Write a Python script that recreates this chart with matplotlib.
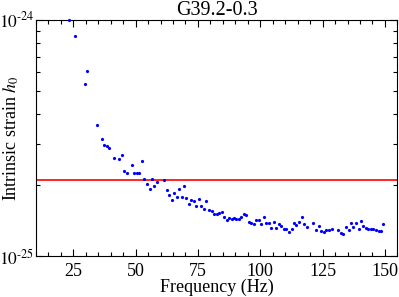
import math

import matplotlib
matplotlib.use("Agg")
import matplotlib.pyplot as plt
from matplotlib.ticker import FixedLocator, FuncFormatter, LogLocator, MultipleLocator

TITLE = "G39.2-0.3"
X_LABEL = "Frequency (Hz)"
Y_LABEL = r"Intrinsic strain $h_0$"

# frequencies (Hz) and upper limits (units of 1e-25)
freq = [
    23.4, 25.5, 29.5, 30.5, 34.5, 36.5, 37.4, 38.4, 39.4, 41.4,
    43.4, 44.4, 45.4, 46.4, 48.4, 49.4, 50.4, 51.4, 52.5, 53.4,
    54.6, 55.6, 56.4, 57.4, 58.4, 61.4, 62.4, 63.5, 64.4, 65.5,
    66.4, 67.5, 68.4, 69.5, 70.4, 71.5, 72.4, 73.5, 74.4, 75.5,
    76.4, 77.5, 78.4, 79.5, 80.5, 81.5, 82.5, 83.5, 84.5, 85.5,
    86.5, 87.5, 88.5, 89.4, 90.4, 91.4, 92.4, 93.4, 94.4, 95.3,
    96.4, 97.3, 98.4, 99.3, 100.4, 101.5, 102.4, 103.3, 104.4, 105.5,
    106.4, 107.5, 108.4, 109.5, 110.4, 111.5, 112.6, 113.5, 114.5, 115.5,
    116.6, 117.5, 118.6, 121.3, 122.4, 123.5, 124.4, 125.5, 126.5, 127.6,
    128.6, 131.3, 132.3, 133.3, 134.3, 135.4, 136.4, 137.3, 138.3, 139.4,
    140.4, 141.4, 142.4, 143.4, 144.4, 145.4, 146.5, 147.5, 148.4, 149.4,
]
h0 = [
    9.97, 8.53, 5.38, 6.07, 3.61, 3.15, 2.96, 2.92, 2.86, 2.61,
    2.58, 2.67, 2.30, 2.25, 2.44, 2.25, 2.25, 2.25, 2.54, 2.12,
    2.02, 1.93, 2.12, 1.99, 2.06, 2.10, 1.91, 1.81, 1.73, 1.86,
    1.78, 1.92, 1.78, 1.98, 1.77, 1.67, 1.73, 1.71, 1.64, 1.74,
    1.64, 1.58, 1.71, 1.57, 1.55, 1.51, 1.51, 1.53, 1.54, 1.46,
    1.43, 1.45, 1.44, 1.45, 1.44, 1.44, 1.46, 1.51, 1.49, 1.40,
    1.39, 1.37, 1.42, 1.42, 1.37, 1.46, 1.38, 1.38, 1.32, 1.40,
    1.32, 1.37, 1.34, 1.30, 1.30, 1.27, 1.31, 1.39, 1.35, 1.40,
    1.46, 1.37, 1.33, 1.38, 1.29, 1.34, 1.28, 1.27, 1.29, 1.29,
    1.30, 1.29, 1.26, 1.24, 1.33, 1.29, 1.38, 1.33, 1.39, 1.30,
    1.41, 1.34, 1.32, 1.31, 1.31, 1.30, 1.29, 1.28, 1.28, 1.37,
]
h_limit = 2.1e-25

X_TICKS = [25, 50, 75, 100, 125, 150]


def log_label(v, pos):
    exp = int(round(math.log10(v)))
    return r"$10^{\text{%d}}$" % exp


def main():
    plt.rcParams["font.family"] = ["Liberation Serif", "DejaVu Serif"]
    plt.rcParams["mathtext.fontset"] = "stix"
    plt.rcParams["font.size"] = 13

    fig = plt.figure(figsize=(3.99, 2.97), dpi=100)
    ax = fig.add_axes([0.09, 0.137, 0.906, 0.796])

    ax.plot(freq, [v * 1e-25 for v in h0], linestyle="none", marker="o",
            markersize=2.3, color="blue", markeredgewidth=0, clip_on=False,
            zorder=3)
    ax.axhline(h_limit, color="red", linewidth=1.2)

    ax.set_yscale("log")
    ax.set_xlim(10, 155)
    ax.set_ylim(1e-25, 1e-24)

    ax.xaxis.set_major_locator(FixedLocator(X_TICKS))
    ax.xaxis.set_minor_locator(MultipleLocator(5))
    ax.yaxis.set_major_locator(FixedLocator([1e-25, 1e-24]))
    ax.yaxis.set_minor_locator(LogLocator(base=10, subs=range(2, 10)))
    ax.yaxis.set_major_formatter(FuncFormatter(log_label))
    ax.yaxis.set_minor_formatter(FuncFormatter(lambda v, p: ""))

    ax.tick_params(which="both", direction="in", top=True, right=True)
    ax.tick_params(which="major", length=5, width=0.8)
    ax.tick_params(which="minor", length=3, width=0.8)
    ax.tick_params(axis="x", which="major", pad=5)
    ax.tick_params(axis="y", which="major", pad=1, labelsize=12.5)

    ax.set_title(TITLE, fontsize=14.5, pad=1)
    ax.set_xlabel(X_LABEL, labelpad=-1)
    ax.set_ylabel(Y_LABEL)
    ax.yaxis.set_label_coords(-0.042, 0.5)

    fig.savefig("out.png", dpi=100)


if __name__ == "__main__":
    main()
